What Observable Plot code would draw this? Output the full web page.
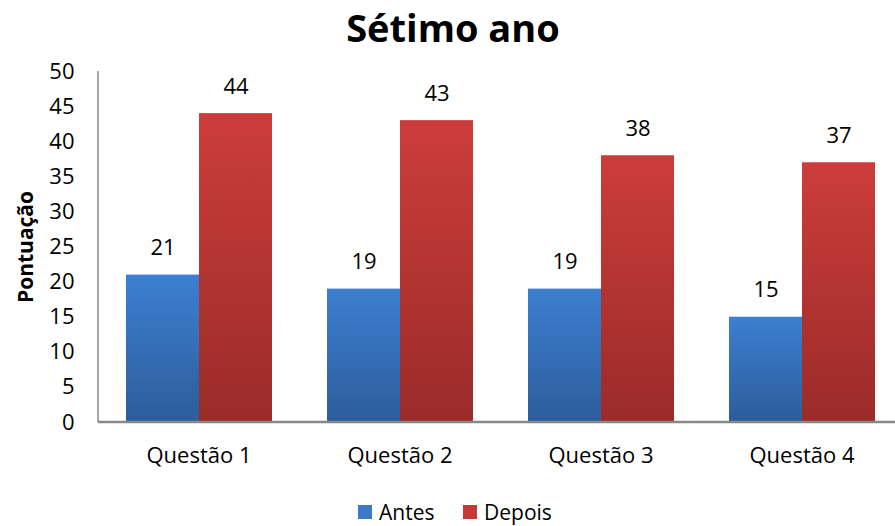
<!DOCTYPE html>
<html><head><meta charset="utf-8">
<script src="https://cdn.jsdelivr.net/npm/d3@7"></script>
<script src="https://cdn.jsdelivr.net/npm/@observablehq/plot@0.6"></script>
<style>body{margin:0;overflow:hidden;background:#fff}</style>
</head><body><div id="chart"></div>
<script>
const questions = ["Questão 1", "Questão 2", "Questão 3", "Questão 4"];
const series = ["Antes", "Depois"];
const antes = [21, 19, 19, 15];
const depois = [44, 43, 38, 37];
const yTicks = [0, 5, 10, 15, 20, 25, 30, 35, 40, 45, 50];

const data = [];
questions.forEach((q, i) => {
  data.push({q, s: "Antes", v: antes[i]});
  data.push({q, s: "Depois", v: depois[i]});
});
const F = "'Open Sans', 'Noto Sans', sans-serif";

const chart = Plot.plot({
  width: 895, height: 526,
  marginTop: 71, marginBottom: 104, marginLeft: 98, marginRight: 0,
  style: {fontFamily: F, background: "#fff"},
  fx: {domain: questions, range: [98, 902], padding: 0, label: null, axis: null},
  x: {domain: series, paddingInner: 0, paddingOuter: 0.37, axis: null},
  y: {domain: [0, 50], ticks: yTicks, label: null},
  marks: [
    () => {
      const ns = "http://www.w3.org/2000/svg";
      const g = document.createElementNS(ns, "g");
      g.innerHTML = `<defs>
        <linearGradient id="gA" x1="0" y1="0" x2="0" y2="1"><stop offset="0" stop-color="#3d7fd1"/><stop offset="1" stop-color="#2c5d9b"/></linearGradient>
        <linearGradient id="gD" x1="0" y1="0" x2="0" y2="1"><stop offset="0" stop-color="#cc3d3a"/><stop offset="1" stop-color="#9a2b29"/></linearGradient>
      </defs>`;
      return g;
    },
    Plot.barY(data.filter(d => d.s === "Antes"), {fx: "q", x: "s", y: "v", fill: "url(#gA)"}),
    Plot.barY(data.filter(d => d.s === "Depois"), {fx: "q", x: "s", y: "v", fill: "url(#gD)"}),
    Plot.text(data, {fx: "q", x: "s", y: "v", text: d => String(d.v), dy: -27, fontSize: 22, fill: "#000"}),
    Plot.axisY({ticks: yTicks, tickSize: 0, tickPadding: 24, fontSize: 22, label: null, color: "#000", anchor: "left", facetAnchor: "left"}),
    Plot.axisFx({domain: questions, tickSize: 0, tickPadding: 25, fontSize: 22, label: null, anchor: "bottom", facetAnchor: null})
  ]
});
document.getElementById("chart").appendChild(chart);

// axis lines, title, y label and legend
const svg = d3.select(chart);
svg.append("line").attr("x1", 98).attr("x2", 98).attr("y1", 71).attr("y2", 422).attr("stroke", "#888").attr("stroke-width", 1.5);
svg.append("line").attr("x1", 98).attr("x2", 895).attr("y1", 422).attr("y2", 422).attr("stroke", "#888").attr("stroke-width", 2.5);
svg.append("text").attr("x", 453).attr("y", 42).attr("text-anchor", "middle").style("font-size", "38px").style("font-weight", "bold").style("font-family", F).attr("fill", "#000").text("Sétimo ano");
svg.append("text").attr("transform", "translate(33,247) rotate(-90)").attr("text-anchor", "middle").style("font-size", "21px").style("font-weight", "bold").style("font-family", F).attr("fill", "#000").text("Pontuação");
const leg = [{s: "Antes", c: "#3a78c8", x: 358}, {s: "Depois", c: "#c53a37", x: 463}];
leg.forEach(l => {
  svg.append("rect").attr("x", l.x).attr("y", 505).attr("width", 14).attr("height", 14).attr("fill", l.c);
  svg.append("text").attr("x", l.x + 21).attr("y", 520).attr("text-anchor", "start").style("font-size", "21px").style("font-family", F).attr("fill", "#000").text(l.s);
});
</script></body></html>
